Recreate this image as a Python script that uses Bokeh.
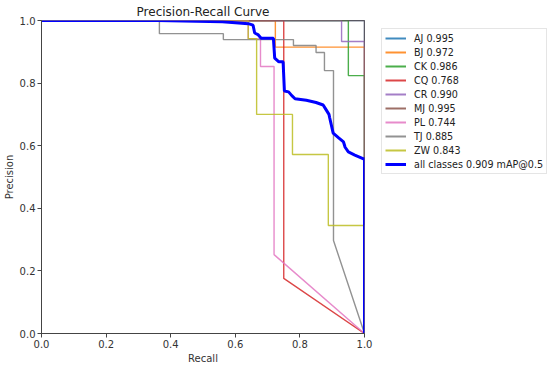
from bokeh.plotting import figure
from bokeh.models import Range1d, FixedTicker, Legend, LegendItem, PrintfTickFormatter
from bokeh.embed import file_html
from bokeh.resources import INLINE

# ---- data ----
classes = ["AJ", "BJ", "CK", "CQ", "CR", "MJ", "PL", "TJ", "ZW"]
ap_values = [0.995, 0.972, 0.986, 0.768, 0.990, 0.995, 0.744, 0.885, 0.843]
colors = ["#1f77b4", "#ff7f0e", "#2ca02c", "#d62728", "#9467bd",
          "#8c564b", "#e377c2", "#7f7f7f", "#bcbd22"]

aj_recall = [0.0, 1.0, 1.0]
aj_prec = [1.0, 1.0, 0.0]
bj_recall = [0.0, 0.724, 0.724, 1.0, 1.0]
bj_prec = [1.0, 1.0, 0.915, 0.915, 0.0]
ck_recall = [0.0, 0.95, 0.95, 1.0, 1.0]
ck_prec = [1.0, 1.0, 0.824, 0.824, 0.0]
cq_recall = [0.0, 0.75, 0.75, 1.0]
cq_prec = [1.0, 1.0, 0.176, 0.0]
cr_recall = [0.0, 0.929, 0.929, 1.0, 1.0]
cr_prec = [1.0, 1.0, 0.933, 0.933, 0.0]
mj_recall = [0.0, 1.0, 1.0]
mj_prec = [1.0, 1.0, 0.0]
pl_recall = [0.0, 0.64, 0.64, 0.678, 0.678, 0.72, 0.72, 1.0]
pl_prec = [1.0, 1.0, 0.942, 0.942, 0.853, 0.853, 0.252, 0.0]
tj_recall = [0.0, 0.365, 0.365, 0.563, 0.563, 0.78, 0.78, 0.85, 0.85,
             0.876, 0.876, 0.904, 0.904, 1.0]
tj_prec = [1.0, 1.0, 0.958, 0.958, 0.939, 0.939, 0.92, 0.92, 0.898,
           0.898, 0.84, 0.84, 0.297, 0.0]
zw_recall = [0.0, 0.64, 0.64, 0.666, 0.666, 0.777, 0.777, 0.888, 0.888, 1.0, 1.0]
zw_prec = [1.0, 1.0, 0.942, 0.942, 0.70, 0.70, 0.572, 0.572, 0.345, 0.345, 0.0]

all_recall = [0.0, 0.36, 0.56, 0.64, 0.655, 0.66, 0.67, 0.68, 0.718, 0.722,
              0.735, 0.748, 0.752, 0.765, 0.775, 0.785, 0.82, 0.85, 0.872,
              0.878, 0.89, 0.892, 0.903, 0.92, 0.935, 0.94, 0.95, 0.97,
              0.997, 1.0, 1.0]
all_prec = [1.0, 1.0, 0.996, 0.99, 0.985, 0.96, 0.955, 0.943, 0.943, 0.88,
            0.868, 0.868, 0.775, 0.772, 0.76, 0.75, 0.745, 0.738, 0.73,
            0.72, 0.70, 0.69, 0.64, 0.625, 0.612, 0.595, 0.58, 0.57,
            0.558, 0.558, 0.0]
all_map = 0.909

class_recall = [aj_recall, bj_recall, ck_recall, cq_recall, cr_recall,
                mj_recall, pl_recall, tj_recall, zw_recall]
class_prec = [aj_prec, bj_prec, ck_prec, cq_prec, cr_prec,
              mj_prec, pl_prec, tj_prec, zw_prec]

ticks = [0.0, 0.2, 0.4, 0.6, 0.8, 1.0]

FONT = "DejaVu Sans"

p = figure(output_backend="svg", toolbar_location=None,
           frame_width=323, frame_height=313,
           x_range=Range1d(0, 1), y_range=Range1d(0, 1),
           title="Precision-Recall Curve",
           min_border_left=10, min_border_right=0,
           min_border_top=6, min_border_bottom=4)

p.title.align = "center"
p.title.text_font = FONT
p.title.text_font_size = "12px"
p.title.text_font_style = "normal"
p.title.text_color = "#222222"
p.title.standoff = 4
p.title.offset = 0

p.xgrid.visible = False
p.ygrid.visible = False
p.outline_line_color = "#444444"
p.outline_line_width = 1
p.background_fill_color = "white"
p.border_fill_color = "white"

for ax, lab in ((p.xaxis[0], "Recall"), (p.yaxis[0], "Precision")):
    ax.ticker = FixedTicker(ticks=ticks)
    ax.formatter = PrintfTickFormatter(format="%.1f")
    ax.minor_tick_line_color = None
    ax.major_tick_out = 4
    ax.major_tick_in = 0
    ax.major_tick_line_color = "#444444"
    ax.axis_line_color = "#444444"
    ax.major_label_text_font = FONT
    ax.major_label_text_font_size = "10px"
    ax.major_label_text_color = "#333333"
    ax.major_label_standoff = 2
    ax.axis_label = lab
    ax.axis_label_text_font = FONT
    ax.axis_label_text_font_size = "10px"
    ax.axis_label_text_font_style = "normal"
    ax.axis_label_text_color = "#333333"
    ax.axis_label_standoff = 2

# legend proxy lines live outside the visible ranges
proxy_x = [-2.0, -1.0]
proxy_y = [-2.0, -2.0]

items = []
for name, ap, col, rx, py in zip(classes, ap_values, colors, class_recall, class_prec):
    p.line(rx, py, line_color=col, line_width=1.4, line_alpha=0.85)
    proxy = p.line(proxy_x, proxy_y, line_color=col, line_width=2, line_alpha=0.85)
    items.append(LegendItem(label=f"{name} {ap:.3f}", renderers=[proxy]))

rb = p.line(all_recall, all_prec, line_color="#0000ff", line_width=3)
items.append(LegendItem(label=f"all classes {all_map:.3f} mAP@0.5", renderers=[rb]))

legend = Legend(items=items)
legend.label_text_font = FONT
legend.label_text_font_size = "9.6px"
legend.label_text_color = "#222222"
legend.label_height = 12
legend.glyph_height = 12
legend.glyph_width = 21
legend.spacing = 2
legend.label_standoff = 8
legend.padding = 3
legend.margin = 0
legend.border_line_color = "#cccccc"
legend.border_line_width = 1
legend.background_fill_alpha = 1
legend.location = (17, 159)
p.add_layout(legend, "right")

open("out.html", "w").write(file_html(p, INLINE))
